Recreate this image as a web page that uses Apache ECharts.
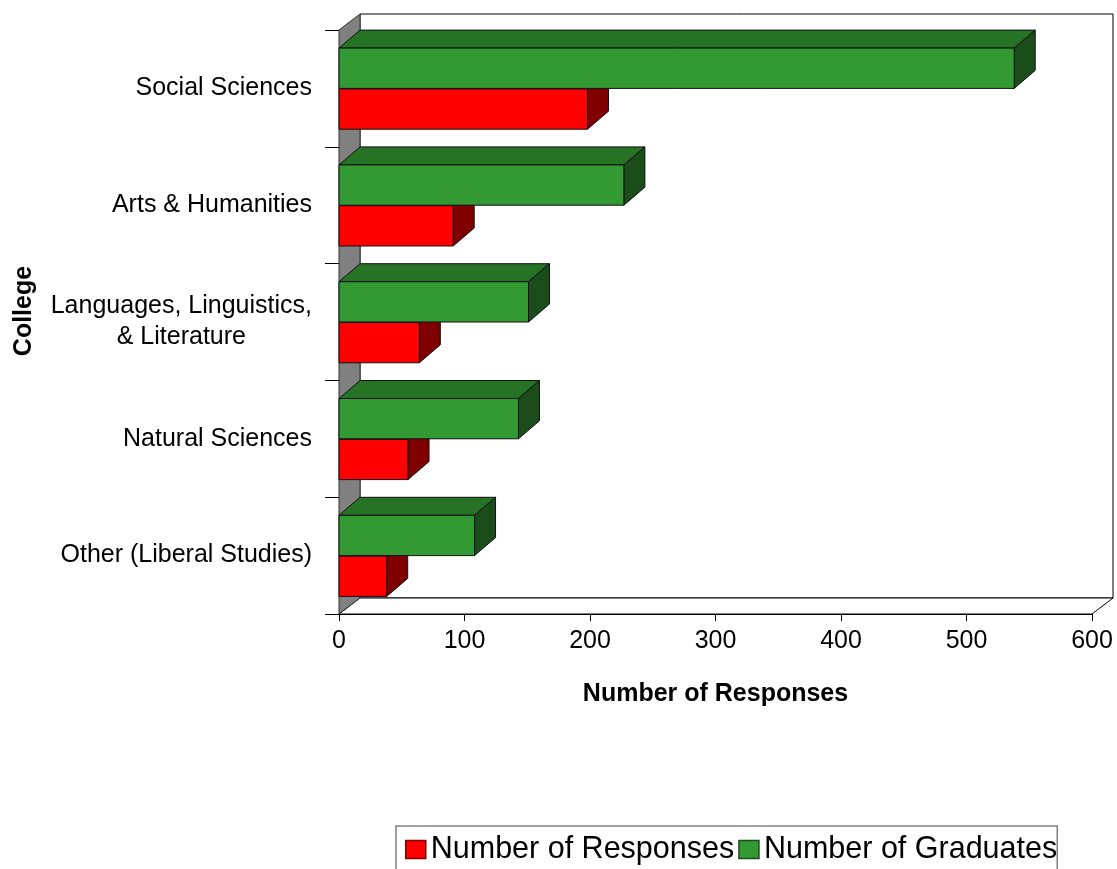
<!DOCTYPE html>
<html>
<head>
<meta charset="utf-8">
<script src="https://cdn.jsdelivr.net/npm/echarts@6/dist/echarts.min.js"></script>
<style>
html,body{margin:0;padding:0;background:#fff;}
#chart{width:1117px;height:869px;}
</style>
</head>
<body>
<div id="chart"></div>
<script>
const categories = ['Social Sciences', 'Arts & Humanities', 'Languages, Linguistics,\n& Literature', 'Natural Sciences', 'Other (Liberal Studies)'];
const responses = [198, 91, 64, 55, 38];
const graduates = [538, 227, 151, 143, 108];
const xTicks = { min: 0, max: 600, interval: 100 };
const seriesNames = ['Number of Responses', 'Number of Graduates'];

const FONT = '"Liberation Sans", Arial, sans-serif';
const BAR_DX = 21, BAR_DY = -18;
const WALL_DX = 21, WALL_DY = -16;

const palette = {
  red: { front: '#ff0000', top: '#cc0000', side: '#800000' },
  green: { front: '#339933', top: '#267326', side: '#1a4d1a' }
};

function makeBarRender(colors, above) {
  return function (params, api) {
    const cat = api.value(1);
    const val = api.value(0);
    const p0 = api.coord([0, cat]);
    const p1 = api.coord([val, cat]);
    const band = api.size([0, 1])[1];
    const bh = band * 0.345;
    const x0 = p0[0], x1 = p1[0];
    const y0 = above ? p0[1] - bh : p0[1] + 0.5;
    const stroke = { stroke: '#111', lineWidth: 1 };
    return {
      type: 'group',
      children: [
        { type: 'polygon', shape: { points: [[x0, y0], [x0 + BAR_DX, y0 + BAR_DY], [x1 + BAR_DX, y0 + BAR_DY], [x1, y0]] },
          style: Object.assign({ fill: colors.top }, stroke) },
        { type: 'polygon', shape: { points: [[x1, y0], [x1 + BAR_DX, y0 + BAR_DY], [x1 + BAR_DX, y0 + bh + BAR_DY], [x1, y0 + bh]] },
          style: Object.assign({ fill: colors.side }, stroke) },
        { type: 'rect', shape: { x: x0, y: y0, width: x1 - x0, height: bh },
          style: Object.assign({ fill: colors.front }, stroke) }
      ]
    };
  };
}

function wallRender(params, api) {
  const cs = params.coordSys;
  const x = cs.x, y = cs.y, w = cs.width, h = cs.height;
  const line = { stroke: '#000', lineWidth: 1 };
  return {
    type: 'group',
    children: [
      { type: 'rect', shape: { x: x + WALL_DX, y: y + WALL_DY, width: w, height: h },
        style: Object.assign({ fill: '#fff' }, line) },
      { type: 'polygon', shape: { points: [[x, y + h], [x + WALL_DX, y + h + WALL_DY], [x + w + WALL_DX, y + h + WALL_DY], [x + w, y + h]] },
        style: Object.assign({ fill: '#fff' }, line) },
      { type: 'polygon', shape: { points: [[x, y], [x + WALL_DX, y + WALL_DY], [x + WALL_DX, y + h + WALL_DY], [x, y + h]] },
        style: { fill: '#808080', stroke: '#333', lineWidth: 1 } }
    ]
  };
}

const chart = echarts.init(document.getElementById('chart'), null, { renderer: 'canvas' });
chart.setOption({
  animation: false,
  backgroundColor: '#fff',
  grid: { left: 339, top: 30, width: 753, height: 584, containLabel: false },
  xAxis: {
    type: 'value', min: xTicks.min, max: xTicks.max, interval: xTicks.interval,
    splitLine: { show: false },
    axisLine: { show: true, lineStyle: { color: '#000', width: 1 } },
    axisTick: { show: true, length: 7, lineStyle: { color: '#000' } },
    axisLabel: { color: '#000', fontSize: 25, fontFamily: FONT, margin: 15 },
    name: 'Number of Responses', nameLocation: 'middle', nameGap: 68,
    nameTextStyle: { color: '#000', fontSize: 25, fontWeight: 'bold', fontFamily: FONT }
  },
  yAxis: {
    type: 'category', data: categories, inverse: true,
    axisLine: { show: true, lineStyle: { color: '#000', width: 1 } },
    axisTick: { show: true, length: 14, alignWithLabel: false, lineStyle: { color: '#000' } },
    axisLabel: {
      color: '#000', margin: 27, fontSize: 25, fontFamily: FONT, lineHeight: 31,
      formatter: function (v) { return v.split('\n').map(s => '{c|' + s + '}').join('\n'); },
      rich: { c: { align: 'center', fontSize: 25, fontFamily: FONT, lineHeight: 31, color: '#000' } }
    },
    name: 'College', nameLocation: 'middle', nameGap: 302, nameRotate: 90,
    nameTextStyle: { color: '#000', fontSize: 25, fontWeight: 'bold', fontFamily: FONT, padding: [0, 0, 0, 22] }
  },
  legend: {
    left: 396, top: 826, orient: 'horizontal',
    padding: [8, 0, 10, 9], itemGap: 4, itemWidth: 20, itemHeight: 18,
    borderColor: '#808080', borderWidth: 1.5, icon: 'rect',
    textStyle: { color: '#000', fontSize: 30.5, fontFamily: FONT },
    data: [
      { name: seriesNames[0], itemStyle: { color: palette.red.front, borderColor: palette.red.side, borderWidth: 1.5 } },
      { name: seriesNames[1], itemStyle: { color: palette.green.front, borderColor: palette.green.side, borderWidth: 1.5 } }
    ]
  },
  series: [
    { type: 'custom', name: 'wall', silent: true, clip: false, renderItem: wallRender, data: [[0, 0]], encode: { x: 0, y: 1 }, z: 1 },
    { type: 'custom', name: seriesNames[0], clip: false, renderItem: makeBarRender(palette.red, false),
      itemStyle: { color: palette.red.front }, encode: { x: 0, y: 1 },
      data: responses.map((v, i) => [v, i]), z: 2 },
    { type: 'custom', name: seriesNames[1], clip: false, renderItem: makeBarRender(palette.green, true),
      itemStyle: { color: palette.green.front }, encode: { x: 0, y: 1 },
      data: graduates.map((v, i) => [v, i]), z: 3 }
  ]
});
</script>
</body>
</html>
